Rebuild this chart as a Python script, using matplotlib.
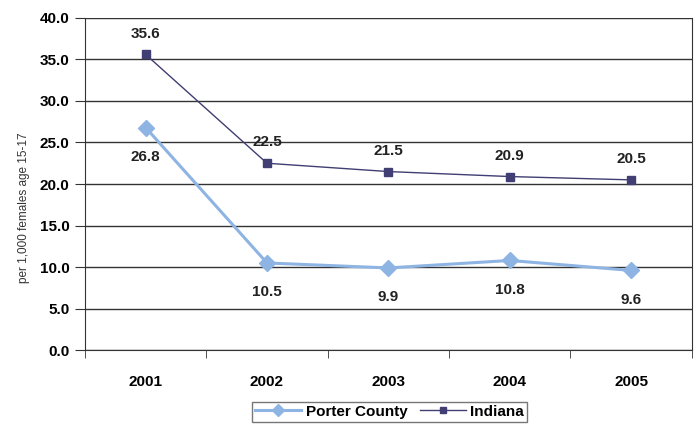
import matplotlib
matplotlib.use("Agg")
import matplotlib.pyplot as plt
from matplotlib.ticker import FixedLocator

years = ["2001", "2002", "2003", "2004", "2005"]
porter = [26.8, 10.5, 9.9, 10.8, 9.6]
indiana = [35.6, 22.5, 21.5, 20.9, 20.5]
yticks = [0, 5, 10, 15, 20, 25, 30, 35, 40]

plt.rcParams['font.family'] = ['Liberation Sans', 'DejaVu Sans']

fig = plt.figure(figsize=(6.96, 4.25), dpi=100)
ax = fig.add_axes([0.122, 0.176, 0.872, 0.782])

x = list(range(len(years)))
porter_color = "#8EB4E3"
indiana_color = "#403E72"

ax.plot(x, porter, color=porter_color, lw=2.2, marker="D", ms=8,
        label="Porter County", zorder=3)
ax.plot(x, indiana, color=indiana_color, lw=1.0, marker="s", ms=6,
        label="Indiana", zorder=3)

for xi, v in zip(x, porter):
    ax.annotate(f"{v:.1f}", (xi, v), xytext=(0, -16), textcoords="offset points",
                ha="center", va="top", fontsize=11, fontweight="bold", color="#222222")
for xi, v in zip(x, indiana):
    ax.annotate(f"{v:.1f}", (xi, v), xytext=(0, 10), textcoords="offset points",
                ha="center", va="bottom", fontsize=11, fontweight="bold", color="#222222")

ax.set_xlim(-0.5, len(years) - 0.5)
ax.set_ylim(0, 40)
ax.set_yticks(yticks)
ax.set_yticklabels([f"{t:.1f}" for t in yticks], fontsize=11, fontweight="bold")
ax.yaxis.grid(True, color="#333333", lw=1.0)
ax.set_axisbelow(True)

ax.set_xticks(x)
ax.set_xticklabels(years, fontsize=11, fontweight="bold")
ax.tick_params(axis="x", length=0, pad=18)
ax.xaxis.set_minor_locator(FixedLocator([i + 0.5 for i in range(-1, len(years))]))
ax.tick_params(axis="x", which="minor", length=6, color="#333333")
ax.tick_params(axis="y", length=7, color="#333333", pad=4)

ax.spines["top"].set_visible(False)
for side in ["left", "right", "bottom"]:
    ax.spines[side].set_color("#333333")

ax.set_ylabel("per 1,000 females age 15-17", fontsize=8.5, color="#333333")
ax.yaxis.set_label_coords(-0.09, 0.43)

leg = fig.legend(loc="lower center", bbox_to_anchor=(0.56, -0.01), ncol=2,
                 frameon=True, fancybox=False, edgecolor="#555555",
                 prop={"size": 11, "weight": "bold"}, handlelength=3,
                 columnspacing=0.8, handletextpad=0.3, borderpad=0.2,
                 markerscale=0.8)

fig.savefig("out.png", dpi=100)
